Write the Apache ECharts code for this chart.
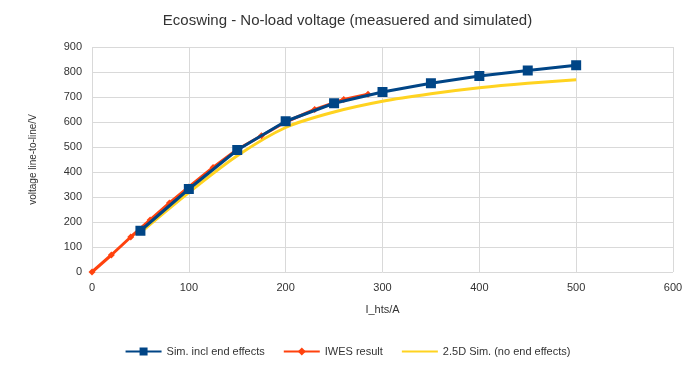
<!DOCTYPE html>
<html>
<head>
<meta charset="utf-8">
<script src="https://cdn.jsdelivr.net/npm/echarts@6/dist/echarts.min.js"></script>
<style>
  html, body { margin: 0; padding: 0; background: #fff; }
  #main { width: 695px; height: 368px; }
</style>
</head>
<body>
<div id="main"></div>
<script>
// current I_hts in A
let simX = [50, 100, 150, 200, 250, 300, 350, 400, 450, 500]
let simEnd = [165, 332, 488, 603, 675, 720, 755, 784, 806, 827]
let sim25D = [158, 318, 465, 578, 640, 683, 713, 737, 755, 769]
let iwesX = [0, 20, 40, 60, 80, 100, 125, 150, 175, 200, 230, 260, 285]
let iwesY = [0, 68, 140, 208, 276, 340, 418, 490, 545, 600, 650, 690, 711]

let pairs = (xs, ys) => xs.map((x, i) => [x, ys[i]])

let chart = echarts.init(document.getElementById('main'))
let font = 'Liberation Sans, Arial, sans-serif'
let option = {
  animation: false,
  title: {
    text: 'Ecoswing - No-load voltage (measuered and simulated)',
    left: 'center',
    top: 8,
    textStyle: { fontSize: 15, fontWeight: 'normal', color: '#333', fontFamily: font }
  },
  grid: { left: 92, right: 22, top: 47, bottom: 96 },
  legend: {
    bottom: 6,
    itemWidth: 36,
    itemHeight: 10,
    itemGap: 18,
    textStyle: { fontSize: 11, color: '#333', fontFamily: font },
    data: [
      'Sim. incl end effects',
      'IWES result',
      { name: '2.5D Sim. (no end effects)', itemStyle: { opacity: 0 } }
    ]
  },
  xAxis: {
    type: 'value',
    min: 0, max: 600, interval: 100,
    name: 'I_hts/A',
    nameLocation: 'middle',
    nameGap: 32,
    nameTextStyle: { fontSize: 11, color: '#333', fontFamily: font },
    axisLine: { show: false },
    axisTick: { show: false },
    axisLabel: { fontSize: 11, color: '#333', fontFamily: font, margin: 10 },
    splitLine: { lineStyle: { color: '#d9d9d9' } }
  },
  yAxis: {
    type: 'value',
    min: 0, max: 900, interval: 100,
    name: 'voltage line-to-line/V',
    nameLocation: 'middle',
    nameGap: 54,
    nameTextStyle: { fontSize: 10, color: '#333', fontFamily: font },
    axisLine: { show: false },
    axisTick: { show: false },
    axisLabel: { fontSize: 11, color: '#333', fontFamily: font, margin: 10 },
    splitLine: { lineStyle: { color: '#d9d9d9' } }
  },
  series: [
    {
      name: 'Sim. incl end effects',
      type: 'line',
      symbol: 'rect',
      symbolSize: 10,
      data: pairs(simX, simEnd),
      lineStyle: { color: '#004586', width: 3 },
      itemStyle: { color: '#004586' },
      z: 4
    },
    {
      name: 'IWES result',
      type: 'line',
      symbol: 'diamond',
      symbolSize: 7,
      data: pairs(iwesX, iwesY),
      lineStyle: { color: '#ff420e', width: 3 },
      itemStyle: { color: '#ff420e' },
      z: 2
    },
    {
      name: '2.5D Sim. (no end effects)',
      type: 'line',
      smooth: 0.3,
      symbol: 'none',
      data: pairs(simX, sim25D),
      lineStyle: { color: '#ffd320', width: 3 },
      itemStyle: { color: '#ffd320' },
      z: 1
    }
  ]
}
chart.setOption(option)
</script>
</body>
</html>
